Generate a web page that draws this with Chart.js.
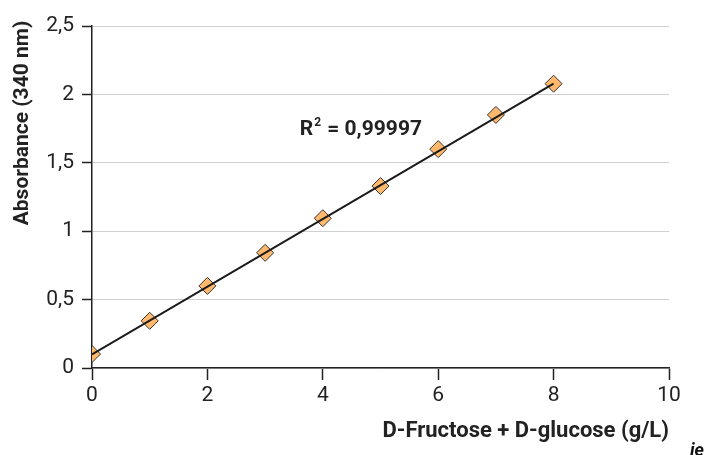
<!DOCTYPE html>
<html>
<head>
<meta charset="utf-8">
<script src="https://cdn.jsdelivr.net/npm/chart.js@4"></script>
<style>
  html, body { margin: 0; padding: 0; background: #fff; }
  #wrap { width: 709px; height: 455px; }
</style>
</head>
<body>
<div id="wrap"><canvas id="calib"></canvas></div>
<script>
const FONT = "Roboto, sans-serif";

// calibration points
const concentrations = [0, 1, 2, 3, 4, 5, 6, 7, 8];
const absorbances = [0.102, 0.345, 0.6, 0.842, 1.095, 1.33, 1.6, 1.85, 2.078];

// fitted line end points
const fitX = [0, 8];
const fitY = [0.1, 2.078];

const xTicks = [0, 2, 4, 6, 8, 10];
const yTicks = [0, 0.5, 1, 1.5, 2, 2.5];
const r2Label = "0,99997";
const yTitle = "Absorbance (340 nm)";

const pointData = concentrations.map((x, i) => ({ x, y: absorbances[i] }));
const fitData = fitX.map((x, i) => ({ x, y: fitY[i] }));

const comma = v => String(v).replace(".", ",");

const annotate = {
  id: "annotate",
  afterDraw(chart) {
    const { ctx, scales } = chart;
    const x = scales.x.getPixelForValue(3.6);
    const y = scales.y.getPixelForValue(1.70);
    ctx.save();
    ctx.fillStyle = "#222";
    ctx.textBaseline = "alphabetic";
    ctx.font = "bold 21px " + FONT;
    ctx.fillText("R", x, y);
    let w = ctx.measureText("R").width;
    ctx.font = "bold 12px " + FONT;
    ctx.fillText("2", x + w + 1, y - 9);
    w += ctx.measureText("2").width + 2;
    ctx.font = "bold 21px " + FONT;
    ctx.fillText(" = " + r2Label, x + w, y);

    // y axis title sits above the plot centre
    ctx.save();
    ctx.translate(23, 123);
    ctx.rotate(-Math.PI / 2);
    ctx.textAlign = "center";
    ctx.textBaseline = "middle";
    ctx.font = "bold 21px " + FONT;
    ctx.fillText(yTitle, 0, 0);
    ctx.restore();

    // logo fragment in corner
    ctx.font = "italic bold 18px " + FONT;
    ctx.fillStyle = "#111";
    ctx.fillText("ie", 690, 456);
    ctx.restore();
  }
};

new Chart(document.getElementById("calib"), {
  type: "scatter",
  data: {
    datasets: [
      {
        type: "line",
        data: fitData,
        borderColor: "#1a1a1a",
        borderWidth: 2,
        pointRadius: 0,
        fill: false
      },
      {
        data: pointData,
        pointStyle: "rectRot",
        pointRadius: 8.5,
        pointBackgroundColor: "#ffb86c",
        pointBorderColor: "#333",
        pointBorderWidth: 1
      }
    ]
  },
  options: {
    responsive: true,
    maintainAspectRatio: false,
    animation: false,
    layout: { padding: { left: 0, right: 40, top: 26, bottom: 0 } },
    plugins: { legend: { display: false }, tooltip: { enabled: false } },
    scales: {
      x: {
        type: "linear",
        min: 0,
        max: 10,
        afterFit: s => { s.height = 87; },
        afterBuildTicks: s => { s.ticks = xTicks.map(v => ({ value: v })); },
        ticks: { color: "#222", font: { family: FONT, size: 21 }, padding: 3 },
        grid: { drawOnChartArea: false, tickLength: 12, tickColor: "#222", tickWidth: 1.5 },
        border: { color: "#222", width: 1.5 },
        title: {
          display: true,
          text: "D-Fructose + D-glucose (g/L)",
          align: "end",
          color: "#222",
          font: { family: FONT, size: 22, weight: "bold" },
          padding: { top: 4, bottom: 10 }
        }
      },
      y: {
        min: 0,
        max: 2.5,
        afterFit: s => { s.width = 92; },
        afterBuildTicks: s => { s.ticks = yTicks.map(v => ({ value: v })); },
        ticks: { color: "#222", font: { family: FONT, size: 21 }, padding: 8, callback: v => comma(v) },
        grid: { color: "#d0d0d0", lineWidth: 1, tickLength: 10, tickColor: "#222", tickWidth: 1.5 },
        border: { color: "#222", width: 1.5 }
      }
    }
  },
  plugins: [annotate]
});
</script>
</body>
</html>
